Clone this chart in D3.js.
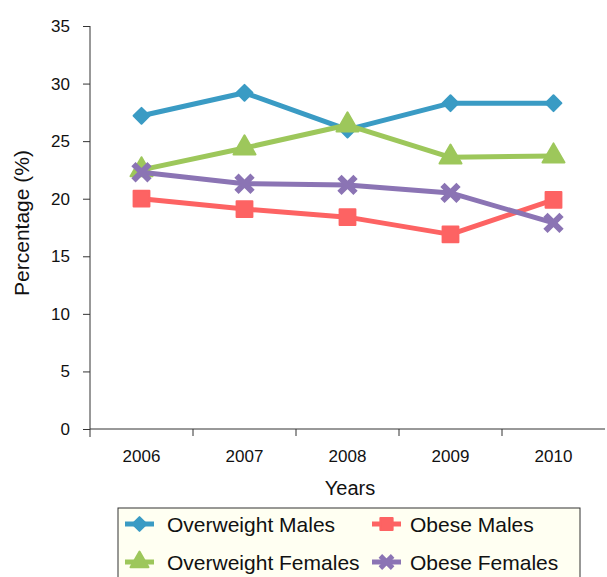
<!DOCTYPE html>
<html>
<head>
<meta charset="utf-8">
<script src="https://cdn.jsdelivr.net/npm/d3@7"></script>
<style>
  html, body { margin: 0; padding: 0; background: #fff; }
  svg { display: block; }
  text { font-family: "Liberation Sans", Arial, sans-serif; fill: #111; }
</style>
</head>
<body>
<svg id="chart" width="607" height="577"></svg>
<script>
// Prevalence of overweight and obesity by year (%)
const years = ["2006", "2007", "2008", "2009", "2010"];
const overweightMales   = [27.2, 29.2, 26.0, 28.3, 28.3];
const obeseMales        = [20.0, 19.1, 18.4, 16.9, 19.9];
const overweightFemales = [22.5, 24.4, 26.4, 23.6, 23.7];
const obeseFemales      = [22.3, 21.3, 21.2, 20.5, 17.9];
const yTicks = [0, 5, 10, 15, 20, 25, 30, 35];

const series = [
  { name: "Overweight Males",   values: overweightMales,   color: "#3a9bc4", symbol: d3.symbolDiamond2, size: 160, legendSize: 120 },
  { name: "Obese Males",        values: obeseMales,        color: "#fd6363", symbol: d3.symbolSquare,   size: 250, legendSize: 150 },
  { name: "Overweight Females", values: overweightFemales, color: "#9dc75b", symbol: d3.symbolTriangle, size: 210, legendSize: 140 },
  { name: "Obese Females",      values: obeseFemales,      color: "#8b74b4", symbol: d3.symbolX,        size: 170, legendSize: 100 }
];

const svg = d3.select("#chart");
const plotLeft = 90, plotRight = 605, plotTop = 26, plotBottom = 429;
const font = "Liberation Sans, Arial, sans-serif";

const x = d3.scaleBand().domain(years).range([plotLeft, plotRight]);
const y = d3.scaleLinear().domain([0, 35]).range([plotBottom, plotTop]);

// Y axis
const yAxis = svg.append("g")
  .attr("transform", `translate(${plotLeft},0)`)
  .call(d3.axisLeft(y).tickValues(yTicks).tickSize(7).tickPadding(13).tickSizeOuter(0));
yAxis.select(".domain").attr("d", `M0,${plotTop}V${plotBottom + 8}`).attr("stroke", "#333");
yAxis.selectAll("line").attr("stroke", "#333");
yAxis.selectAll("text").attr("font-size", 17).attr("font-family", font).attr("fill", "#111");

// X axis
const xAxis = svg.append("g")
  .attr("transform", `translate(0,${plotBottom})`)
  .call(d3.axisBottom(x).tickSize(0).tickPadding(21));
xAxis.select(".domain").attr("d", `M${plotLeft},0H${plotRight}`).attr("stroke", "#333");
xAxis.selectAll("text").attr("font-size", 17).attr("font-family", font).attr("fill", "#111");
// Category boundary ticks
const bounds = years.slice(0, -1).map(yr => x(yr) + x.bandwidth());
xAxis.selectAll(".bound").data(bounds).join("line")
  .attr("class", "bound")
  .attr("x1", d => d).attr("x2", d => d)
  .attr("y1", 0).attr("y2", 7)
  .attr("stroke", "#333");

// Axis titles
svg.append("text")
  .attr("transform", "translate(29,223) rotate(-90)")
  .attr("text-anchor", "middle")
  .attr("font-size", 21)
  .text("Percentage (%)");
svg.append("text")
  .attr("x", 350).attr("y", 495)
  .attr("text-anchor", "middle")
  .attr("font-size", 20)
  .text("Years");

// Lines and markers
const cx = (i) => x(years[i]) + x.bandwidth() / 2;
const line = d3.line().x((d, i) => cx(i)).y(d => y(d));

const drawOrder = [0, 2, 1, 3];
drawOrder.forEach(si => {
  const s = series[si];
  const isX = s.symbol === d3.symbolX;
  const g = svg.append("g");
  g.append("path")
    .attr("d", line(s.values))
    .attr("fill", "none")
    .attr("stroke", s.color)
    .attr("stroke-width", 5)
    .attr("stroke-linejoin", "round");
  g.selectAll("path.mk").data(s.values).join("path")
    .attr("class", "mk")
    .attr("transform", (d, i) => `translate(${cx(i)},${y(d)})`)
    .attr("d", d3.symbol().type(s.symbol).size(s.size))
    .attr("fill", isX ? "none" : s.color)
    .attr("stroke", s.color)
    .attr("stroke-width", isX ? 6 : 2)
    .attr("stroke-linejoin", "round");
});

// Legend
const legend = svg.append("g");
legend.append("rect")
  .attr("x", 118).attr("y", 508)
  .attr("width", 462).attr("height", 80)
  .attr("fill", "#fffff2")
  .attr("stroke", "#333")
  .attr("stroke-width", 1);

const legendPos = [
  { x: 125, y: 524 }, { x: 372, y: 524 },
  { x: 125, y: 562 }, { x: 372, y: 562 }
];
series.forEach((s, i) => {
  const p = legendPos[i];
  const isX = s.symbol === d3.symbolX;
  const item = legend.append("g").attr("transform", `translate(${p.x},${p.y})`);
  item.append("line")
    .attr("x1", 0).attr("x2", 29)
    .attr("stroke", s.color).attr("stroke-width", 5);
  item.append("path")
    .attr("transform", "translate(14.5,0)")
    .attr("d", d3.symbol().type(s.symbol).size(s.legendSize))
    .attr("fill", isX ? "none" : s.color)
    .attr("stroke", s.color)
    .attr("stroke-width", isX ? 5 : 2)
    .attr("stroke-linejoin", "round");
  item.append("text")
    .attr("x", i % 2 === 0 ? 42 : 38).attr("y", 7.5)
    .attr("font-size", 21)
    .text(s.name);
});
</script>
</body>
</html>
